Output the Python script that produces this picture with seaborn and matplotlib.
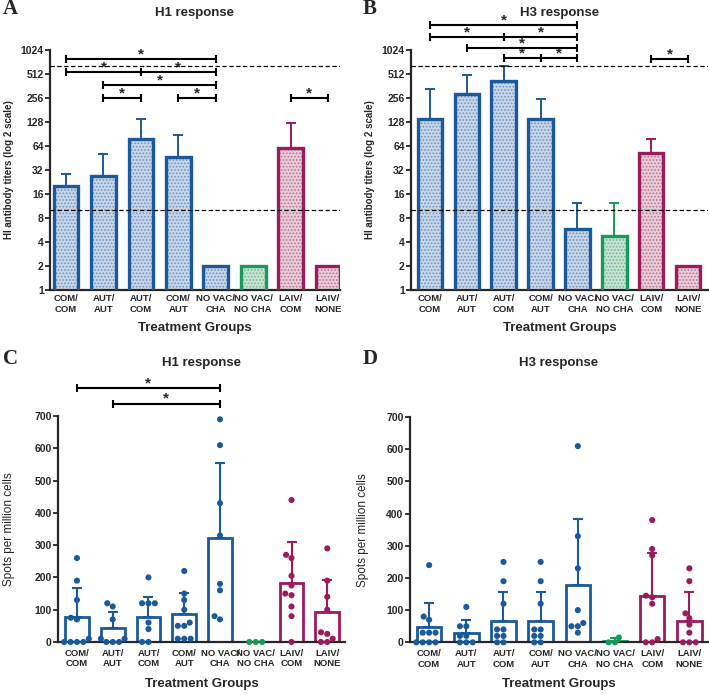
import matplotlib
matplotlib.use('Agg')
import numpy as np
import pandas as pd
import seaborn as sns
import matplotlib.pyplot as plt

sns.set_style('ticks')
plt.rcParams['font.family'] = ['Liberation Sans', 'DejaVu Sans']
plt.rcParams['hatch.linewidth'] = 0.8

# data
groups = ['COM/\nCOM', 'AUT/\nAUT', 'AUT/\nCOM', 'COM/\nAUT',
          'NO VAC/\nCHA', 'NO VAC/\nNO CHA', 'LAIV/\nCOM', 'LAIV/\nNONE']

# HI titers, bar = mean, whisker = upper end
h1_hi_mean = [20, 27, 78, 47, 2, 2, 60, 2]
h1_hi_upper = [28.5, 51, 140, 88, 2, 2, 123, 2]
h3_hi_mean = [140, 285, 418, 140, 5.9, 4.8, 52, 2]
h3_hi_upper = [329, 502, 645, 247, 12.3, 12.3, 78, 2]

# significance brackets: (from group, to group, level)
h1_hi_sig = [(0, 4, 790), (0, 2, 548), (2, 4, 548), (1, 4, 373),
             (1, 2, 256), (3, 4, 256), (6, 7, 256)]
h3_hi_sig = [(0, 4, 2100), (0, 2, 1500), (2, 4, 1500), (1, 4, 1095),
             (2, 3, 805), (3, 4, 805), (6, 7, 790)]

# ELISpot, spots per million cells
h1_spot_mean = [76, 44, 76, 88, 321, 0, 183, 92]
h1_spot_upper = [166, 93, 140, 151, 556, 0, 310, 192]
h3_spot_mean = [49, 30, 67, 67, 179, 5, 143, 65]
h3_spot_upper = [123, 69, 157, 157, 384, 14, 277, 156]

h1_spot_dots = [[260, 190, 130, 75, 70, 10, 0, 0, 0, 0],
                [120, 110, 70, 10, 10, 0, 0, 0],
                [200, 120, 120, 120, 60, 40, 0, 0],
                [220, 150, 130, 100, 60, 50, 50, 10, 10, 10],
                [690, 610, 430, 330, 180, 160, 80, 70],
                [0, 0, 0],
                [440, 270, 260, 205, 175, 150, 145, 110, 80, 0],
                [290, 190, 140, 100, 30, 25, 10, 0, 0]]
h3_spot_dots = [[240, 80, 70, 30, 30, 30, 0, 0, 0, 0],
                [110, 50, 50, 20, 20, 0, 0, 0],
                [250, 190, 120, 40, 40, 20, 20, 0, 0],
                [250, 190, 120, 40, 40, 20, 20, 0, 0],
                [610, 330, 230, 100, 60, 50, 50, 30],
                [0, 15, 0],
                [380, 290, 270, 145, 140, 120, 10, 0, 0],
                [230, 190, 90, 75, 55, 30, 0, 0, 0]]
h1_spot_sig = [(0, 4, 786), (1, 4, 739)]

blue, green, mag = '#1b5a9a', '#179a5e', '#9b1b5c'
colors = [blue] * 5 + [green] + [mag] * 2
fills = ['#c3d4ec'] * 5 + ['#c4e5d2'] + ['#e9c8d8'] * 2
hatch_cols = ['#6f95c8'] * 5 + ['#6fba8f'] + ['#c27397'] * 2

fig = plt.figure(figsize=(7.09, 6.95), dpi=100)
axA = fig.add_axes([0.0705, 0.5827, 0.409, 0.3453])
axB = fig.add_axes([0.5797, 0.5827, 0.419, 0.3453])
axC = fig.add_axes([0.0818, 0.0763, 0.405, 0.325])
axD = fig.add_axes([0.578, 0.0758, 0.42, 0.324])


def style(ax, xlim, lab_x, xpad, labelpad):
    sns.despine(ax=ax)
    for s in ['left', 'bottom']:
        ax.spines[s].set_linewidth(1.6)
    ax.set_xlim(*xlim)
    ax.tick_params(axis='y', length=3.5, width=1.3, labelsize=7.5, pad=1)
    ax.tick_params(axis='x', length=0, labelsize=6.8, pad=xpad)
    for t in ax.get_xticklabels() + ax.get_yticklabels():
        t.set_fontweight('bold')
    ax.set_xlabel('Treatment Groups', fontsize=9.5, fontweight='bold',
                  labelpad=labelpad)
    ax.yaxis.set_label_coords(lab_x, 0.5)


def errors(ax, means, uppers, lw):
    for i, (m, u, c) in enumerate(zip(means, uppers, colors)):
        if u > m:
            ax.errorbar(i, m, yerr=[[0], [u - m]], fmt='none', ecolor=c,
                        elinewidth=lw, capsize=3.5, capthick=lw, zorder=3)


def brackets(ax, sig):
    for a, b, y in sig:
        ax.plot([a, b], [y, y], color='black', lw=1.5, marker='|', ms=6,
                mew=1.5, clip_on=False, zorder=5)
        ax.annotate('*', ((a + b) / 2, y), xytext=(0, 0.5),
                    textcoords='offset points', ha='center', va='baseline',
                    fontsize=11, fontweight='bold', annotation_clip=False)


def hi_panel(ax, means, uppers, sig, xlim, lab_x):
    sns.barplot(x=groups, y=means, hue=groups, order=groups, palette=fills,
                legend=False, errorbar=None, width=0.66, ax=ax, zorder=2)
    for p, hc in zip(ax.patches, hatch_cols):
        p.set_hatch('.....')
        p.set_edgecolor(hc)
        p.set_linewidth(0)
    sns.barplot(x=groups, y=means, hue=groups, order=groups, palette=colors,
                legend=False, errorbar=None, width=0.66, fill=False,
                linewidth=2.4, ax=ax, zorder=4)
    errors(ax, means, uppers, 1.4)
    ax.set_yscale('log', base=2)
    ax.set_ylim(1, 1024)
    ticks = [2 ** k for k in range(11)]
    ax.set_yticks(ticks)
    ax.set_yticklabels([str(t) for t in ticks])
    ax.minorticks_off()
    for lvl in [10, 640]:
        ax.axhline(lvl, color='black', ls=(0, (3.5, 2)), lw=0.9, zorder=6)
    brackets(ax, sig)
    ax.set_ylabel('HI antibody titers (log 2 scale)', fontsize=7,
                  fontweight='bold')
    style(ax, xlim, lab_x, 3, 6)


def spot_panel(ax, means, uppers, dots, xlim, lab_x):
    sns.barplot(x=groups, y=means, hue=groups, order=groups, palette=colors,
                legend=False, errorbar=None, width=0.66, fill=False,
                linewidth=2.0, ax=ax, zorder=2)
    errors(ax, means, uppers, 1.5)
    df = pd.DataFrame({'group': np.repeat(groups, [len(d) for d in dots]),
                       'spots': np.concatenate(dots)})
    sns.swarmplot(data=df, x='group', y='spots', hue='group', order=groups,
                  hue_order=groups, palette=colors, legend=False, size=4.4,
                  ax=ax, zorder=4)
    for coll in ax.collections:
        coll.set_clip_on(False)
    ax.set_ylim(0, 700)
    ax.set_yticks(range(0, 701, 100))
    ax.set_ylabel('Spots per million cells', fontsize=8.5)
    style(ax, xlim, lab_x, 5, 7)


hi_panel(axA, h1_hi_mean, h1_hi_upper, h1_hi_sig, (-0.43, 7.32), -0.124)
hi_panel(axB, h3_hi_mean, h3_hi_upper, h3_hi_sig, (-0.51, 7.54), -0.121)
spot_panel(axC, h1_spot_mean, h1_spot_upper, h1_spot_dots, (-0.53, 7.5), -0.150)
spot_panel(axD, h3_spot_mean, h3_spot_upper, h3_spot_dots, (-0.52, 7.49), -0.136)
brackets(axC, h1_spot_sig)

for ax, title, letter, lx in [(axA, 'H1 response', 'A', 0.004),
                              (axB, 'H3 response', 'B', 0.511),
                              (axC, 'H1 response', 'C', 0.004),
                              (axD, 'H3 response', 'D', 0.511)]:
    pos = ax.get_position()
    top = 0.981 if ax in (axA, axB) else 0.478
    fig.text(pos.x0 + pos.width / 2, top, title, ha='center', va='center',
             fontsize=9.5, fontweight='bold')
    fig.text(lx, top + 0.006, letter, ha='left', va='center', fontsize=15,
             fontweight='bold', family=['Liberation Serif', 'DejaVu Serif'])

fig.savefig('out.png', dpi=100)
